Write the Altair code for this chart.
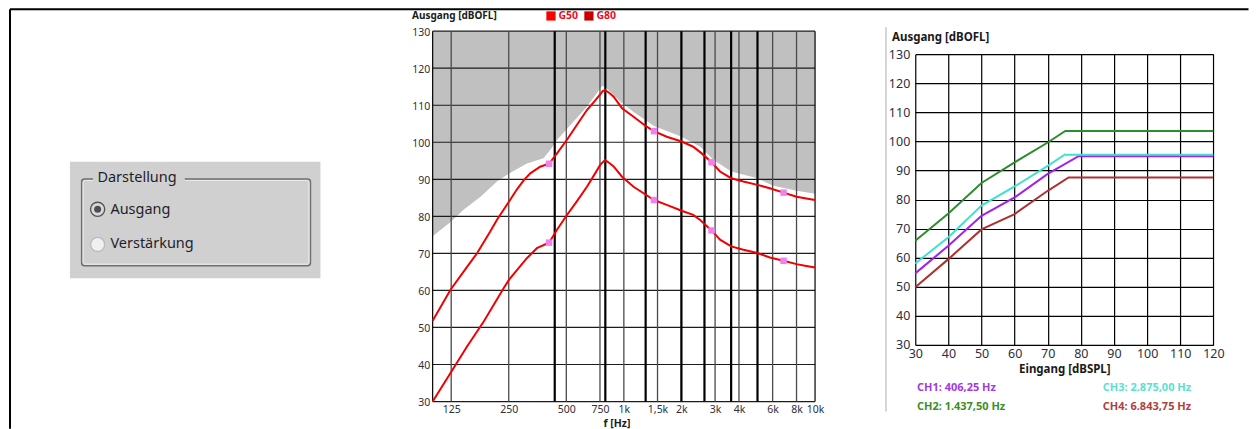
import altair as alt
import pandas as pd

FONT = "Noto Sans"
LABEL_COLOR = "#2e2e3c"

# ---------------- left chart: output level vs frequency ----------------
g80_f = [100, 124, 150, 171, 200, 217, 235, 251, 276, 300, 324, 365, 406.25, 447, 503, 570,
         641, 700, 752, 775, 797, 840, 884, 978, 1124, 1316, 1437.5, 1676, 2005, 2305, 2553,
         2875, 3185, 3640, 4218, 4995, 5800, 6843.75, 8000, 9000, 10000]
g80_db = [51.8, 60.2, 66.1, 70.1, 75.9, 79.1, 81.8, 84.0, 87.3, 89.8, 91.6, 93.4, 94.2, 97.0,
          100.6, 104.8, 108.7, 111.0, 112.9, 113.8, 114.1, 113.3, 112.3, 109.2, 106.9, 104.2,
          103.0, 101.5, 100.2, 98.8, 97.0, 94.6, 92.1, 90.3, 89.4, 88.5, 87.6, 86.4, 85.3,
          84.8, 84.4]

g50_f = [100, 124, 151, 185, 235, 251, 311, 351, 406.25, 447, 503, 570, 641, 700, 752, 797,
         840, 884, 978, 1124, 1316, 1437.5, 1676, 2005, 2305, 2507, 2875, 3185, 3640, 4218,
         4995, 5800, 6843.75, 8000, 9000, 10000]
g50_db = [30.0, 37.7, 44.8, 51.6, 60.6, 62.9, 68.7, 71.4, 72.9, 76.4, 80.3, 84.2, 88.0, 91.2,
          93.9, 95.2, 94.4, 93.5, 90.7, 88.0, 85.7, 84.4, 83.1, 81.5, 80.4, 79.0, 76.2, 73.7,
          71.9, 71.0, 70.1, 68.9, 68.0, 67.1, 66.6, 66.2]

mpo_f = [100, 125, 145, 178, 217, 251, 311, 380, 412, 447, 503, 641, 768, 797, 957, 1124,
         1437.5, 2005, 2507, 2950, 3640, 4995, 6000, 8000, 10000]
mpo_db = [74.6, 78.6, 81.8, 85.3, 89.4, 91.6, 94.3, 95.7, 97.9, 100.6, 103.6, 109.6, 115.2,
          115.0, 111.0, 108.2, 104.4, 101.5, 98.8, 95.2, 92.1, 90.3, 88.3, 86.9, 86.1]

ch_freqs = [406.25, 1437.5, 2875, 6843.75]
g80_at_ch = [94.2, 103.0, 94.6, 86.4]
g50_at_ch = [72.9, 84.4, 76.2, 68.0]

band_edges = [435, 800, 1300, 2000, 2640, 3640, 5000]
freq_ticks = [125, 250, 500, 750, 1000, 1500, 2000, 3000, 4000, 6000, 8000, 10000]
freq_tick_labels = ["125", "250", "500", "750", "1k", "1,5k", "2k", "3k", "4k", "6k", "8k", "10k"]
level_ticks = [30, 40, 50, 60, 70, 80, 90, 100, 110, 120, 130]
freq_border = [100, 10000]

curve_names = ["G50", "G80"]
curve_colors = ["#ff0000", "#c80000"]

# ---------------- right chart: input/output per channel ----------------
io_ticks = [30, 40, 50, 60, 70, 80, 90, 100, 110, 120]
channels = ["CH1", "CH2", "CH3", "CH4"]
channel_labels = ["CH1: 406,25 Hz", "CH2: 1.437,50 Hz", "CH3: 2.875,00 Hz", "CH4: 6.843,75 Hz"]
channel_colors = ["#a020f0", "#2d8c2d", "#40e0d0", "#b03030"]
channel_text_colors = ["#a23ae0", "#3a8f2a", "#5ae0d2", "#b04040"]
ch1_in = [30, 40, 50, 60, 70, 79.3, 120]
ch1_out = [54.6, 64.1, 74.4, 80.7, 88.8, 94.9, 94.9]
ch2_in = [30, 40, 50, 60, 70, 75.3, 120]
ch2_out = [65.8, 75.2, 85.7, 92.8, 99.6, 103.6, 103.6]
ch3_in = [30, 40, 50, 60, 70, 75.1, 120]
ch3_out = [58.0, 67.0, 77.9, 84.5, 91.6, 95.4, 95.4]
ch4_in = [30, 40, 50, 60, 70, 76.3, 120]
ch4_out = [49.8, 59.5, 69.7, 75.0, 83.0, 87.6, 87.6]
io_in = [ch1_in, ch2_in, ch3_in, ch4_in]
io_out = [ch1_out, ch2_out, ch3_out, ch4_out]

# ---------------- left chart ----------------
label_expr = "".join(f"datum.value == {v} ? '{l}' : " for v, l in zip(freq_ticks, freq_tick_labels)) + "''"

fx = alt.Scale(type="log", domain=[100, 10000], nice=False)
fy = alt.Scale(domain=[30, 130], nice=False, zero=False)
X_F = alt.X("f:Q", scale=fx, axis=alt.Axis(
    values=freq_ticks, labelExpr=label_expr, grid=False, domain=False, ticks=False,
    labelPadding=3, labelFont=FONT, labelFontSize=10.5, labelColor=LABEL_COLOR,
    labelOverlap=False, labelFlush=False, title="f [Hz]", titleFont=FONT,
    titleFontSize=10.5, titleFontWeight="bold", titleColor="#1a1a1a", titlePadding=3,
    titleX=184))
Y_F = alt.Y("db:Q", scale=fy, axis=alt.Axis(
    values=level_ticks, grid=False, domain=False, ticks=False, labelPadding=3,
    labelFont=FONT, labelFontSize=10.5, labelColor=LABEL_COLOR, labelOffset=1, title=None))

mpo_area = alt.Chart(pd.DataFrame({"f": mpo_f, "db": mpo_db})).transform_calculate(
    top="130").mark_area(color="#c0c0c0").encode(x=X_F, y=Y_F, y2="top:Q")
hgrid = alt.Chart(pd.DataFrame({"db": level_ticks})).mark_rule(
    color="#1c1c1c", strokeWidth=1.2).encode(y=Y_F)
vgrid = alt.Chart(pd.DataFrame({"f": freq_ticks[:-1]})).mark_rule(
    color="#4a4a4a", strokeWidth=1.3).encode(x=X_F)
vedges = alt.Chart(pd.DataFrame({"f": band_edges})).mark_rule(
    color="#000000", strokeWidth=2.2).encode(x=X_F)
vborder = alt.Chart(pd.DataFrame({"f": freq_border})).mark_rule(
    color="#000000", strokeWidth=1.2).encode(x=X_F)
line80 = alt.Chart(pd.DataFrame({"f": g80_f, "db": g80_db})).mark_line(
    color="#f00000", strokeWidth=2).encode(x=X_F, y=Y_F)
line50 = alt.Chart(pd.DataFrame({"f": g50_f, "db": g50_db})).mark_line(
    color="#f00000", strokeWidth=2).encode(x=X_F, y=Y_F)
marks = alt.Chart(pd.DataFrame({"f": ch_freqs + ch_freqs, "db": g80_at_ch + g50_at_ch})).mark_square(
    size=42, color="#ee82ee", opacity=1).encode(x=X_F, y=Y_F)

freq_layers = [mpo_area, hgrid, vgrid, vedges, vborder, line80, line50, marks]
freq_layers.append(alt.Chart(pd.DataFrame({"t": ["Ausgang [dBOFL]"]})).mark_text(
    font=FONT, fontSize=10, fontWeight="bold", color="#1a1a1a", align="left",
    baseline="middle").encode(x=alt.value(-20.6), y=alt.value(-15.3), text="t:N"))
for i, (name, col) in enumerate(zip(curve_names, curve_colors)):
    x0 = 118.4 + 38 * i
    freq_layers.append(alt.Chart(pd.DataFrame({"t": [name]})).mark_square(
        size=85, color=col, opacity=1).encode(x=alt.value(x0), y=alt.value(-15.2)))
    freq_layers.append(alt.Chart(pd.DataFrame({"t": [name]})).mark_text(
        font=FONT, fontSize=10.5, fontWeight="bold", color="#ee0a1e", align="left",
        baseline="middle").encode(x=alt.value(x0 + 7.5), y=alt.value(-15.0), text="t:N"))
freq = alt.layer(*freq_layers).properties(width=382.7, height=370.7)

# ---------------- right chart ----------------
X_IO = alt.X("inp:Q", scale=alt.Scale(domain=[30, 120], nice=False, zero=False), axis=alt.Axis(
    values=io_ticks, grid=True, gridColor="#000000", gridWidth=1.2, domain=False, ticks=False,
    labelPadding=3, labelFont=FONT, labelFontSize=12.5, labelColor=LABEL_COLOR,
    labelFlush=False, labelOverlap=False, title="Eingang [dBSPL]", titleFont=FONT,
    titleFontSize=11.5, titleFontWeight="bold", titleColor="#1a1a1a", titlePadding=3))
Y_IO = alt.Y("out:Q", scale=alt.Scale(domain=[30, 130], nice=False, zero=False), axis=alt.Axis(
    values=level_ticks, grid=True, gridColor="#000000", gridWidth=1.2, domain=False, ticks=False,
    labelPadding=5.5, labelFont=FONT, labelFontSize=12.5, labelColor=LABEL_COLOR, title=None))

io_layers = []
for k in [3, 1, 0, 2]:
    df = pd.DataFrame({"inp": io_in[k], "out": io_out[k], "ch": channels[k]})
    io_layers.append(alt.Chart(df).mark_line(color=channel_colors[k], strokeWidth=2).encode(
        x=X_IO, y=Y_IO))
io_layers.append(alt.Chart(pd.DataFrame({"t": ["Ausgang [dBOFL]"]})).mark_text(
    font=FONT, fontSize=11.5, fontWeight="bold", color="#1a1a1a", align="left",
    baseline="middle").encode(x=alt.value(-23.3), y=alt.value(-16.3), text="t:N"))
for k, lab in enumerate(channel_labels):
    lx = 1.7 if k in (0, 1) else 187.7
    ly = 334.5 if k in (0, 2) else 353
    io_layers.append(alt.Chart(pd.DataFrame({"t": [lab]})).mark_text(
        font=FONT, fontSize=11, fontWeight="bold", color=channel_text_colors[k], align="left",
        baseline="middle").encode(x=alt.value(lx), y=alt.value(ly), text="t:N"))
io = alt.layer(*io_layers).properties(width=298.3, height=291)

spacer = alt.Chart(pd.DataFrame({"v": [0]})).mark_point(opacity=0).encode(
    x=alt.value(0), y=alt.value(0)).properties(width=298.3, height=22.3)
right = alt.vconcat(spacer, io, spacing=0, bounds="flush")

# ---------------- left: settings panel + frame (page pixel coordinates) ----------------
PX = alt.Scale(domain=[8, 332.3], nice=False, zero=False)
PY = alt.Scale(domain=[31, 421], nice=False, zero=False, reverse=True)


def rect_layer(x1, x2, y1, y2, **kw):
    df = pd.DataFrame({"x1": [x1], "x2": [x2], "y1": [y1], "y2": [y2]})
    return alt.Chart(df).mark_rect(**kw).encode(
        x=alt.X("x1:Q", scale=PX, axis=None), x2="x2:Q",
        y=alt.Y("y1:Q", scale=PY, axis=None), y2="y2:Q")


def rule_layer(x1, x2, y1, y2, **kw):
    df = pd.DataFrame({"x1": [x1], "x2": [x2], "y1": [y1], "y2": [y2]})
    return alt.Chart(df).mark_rule(**kw).encode(
        x=alt.X("x1:Q", scale=PX, axis=None), x2="x2:Q",
        y=alt.Y("y1:Q", scale=PY, axis=None), y2="y2:Q")


def text_layer(x, y, txt, **kw):
    df = pd.DataFrame({"x": [x], "y": [y], "t": [txt]})
    return alt.Chart(df).mark_text(**kw).encode(
        x=alt.X("x:Q", scale=PX, axis=None), y=alt.Y("y:Q", scale=PY, axis=None), text="t:N")


def dot_layer(x, y, **kw):
    df = pd.DataFrame({"x": [x], "y": [y]})
    return alt.Chart(df).mark_point(**kw).encode(
        x=alt.X("x:Q", scale=PX, axis=None), y=alt.Y("y:Q", scale=PY, axis=None))


panel_layers = [
    rect_layer(70, 320.7, 161.7, 278.3, color="#d0d0d0"),
    rect_layer(81.7, 310.7, 179, 265.7, fillOpacity=0, stroke="#6e6e6e", strokeWidth=1.5,
               cornerRadius=3),
    rect_layer(83.2, 309.2, 180.5, 264.2, fillOpacity=0, stroke="#ececec", strokeWidth=1,
               cornerRadius=2),
    rect_layer(93, 185, 171, 186, color="#d0d0d0"),
    text_layer(97.5, 178.3, "Darstellung", font=FONT, fontSize=14.5, color="#1e1e2a",
               align="left", baseline="middle"),
    dot_layer(97.7, 209.3, shape="circle", filled=True, size=200, fill="#dadada",
              stroke="#555555", strokeWidth=1.4, opacity=1),
    dot_layer(97.7, 209.3, shape="circle", filled=True, size=50, color="#4e4e56", opacity=1),
    text_layer(110.5, 209.5, "Ausgang", font=FONT, fontSize=14.5, color="#1e1e2a",
               align="left", baseline="middle"),
    dot_layer(97.7, 244.5, shape="circle", filled=True, size=200, fill="#f0f0f0",
              stroke="#bcbcbc", strokeWidth=1.4, opacity=1),
    text_layer(110.5, 244.5, "Verstärkung", font=FONT, fontSize=14.5, color="#1e1e2a",
               align="left", baseline="middle"),
    rule_layer(10, 1249.5, 9, 9, color="#000000", strokeWidth=2),
    rule_layer(10, 10, 9, 429, color="#000000", strokeWidth=2),
    rule_layer(886.7, 886.7, 27, 411.7, color="#c8c8c8", strokeWidth=1.5),
]
left = alt.layer(*panel_layers).properties(width=324.3, height=390)

chart = alt.hconcat(left, freq, right, spacing=100, bounds="flush").properties(
    padding=0).configure_view(strokeWidth=0)

chart.save("out.html", embed_options={"renderer": "svg", "actions": False})
